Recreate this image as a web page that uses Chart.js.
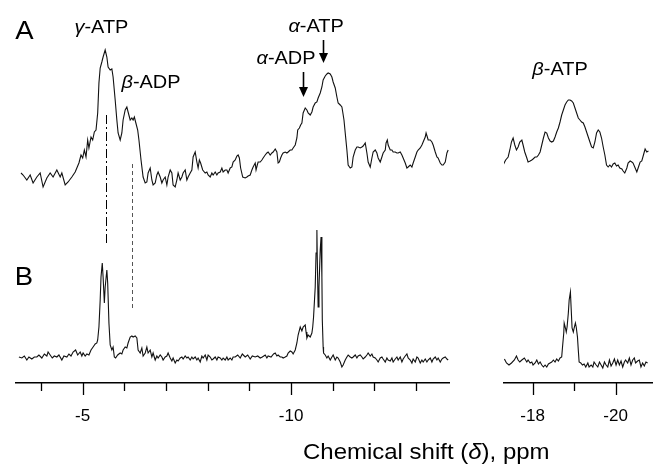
<!DOCTYPE html>
<html>
<head>
<meta charset="utf-8">
<script src="https://cdn.jsdelivr.net/npm/chart.js@4.4.1/dist/chart.umd.min.js"></script>
<style>
  html, body { margin: 0; padding: 0; background: #fff; }
  #wrap { position: relative; width: 653px; height: 464px; overflow: hidden; }
  #left { position: absolute; left: 0; top: 0; }
  #right { position: absolute; left: 460px; top: 0; }
  #xtitle {
    position: absolute; left: 303px; top: 441px;
    font: 22px "Liberation Sans", Arial, Helvetica, sans-serif; line-height: 22px;
    color: #000; white-space: nowrap;
    transform: scaleX(1.09); transform-origin: left top;
  }
</style>
</head>
<body>
<div id="wrap">
  <canvas id="left" width="460" height="464"></canvas>
  <canvas id="right" width="193" height="464"></canvas>
  <div id="xtitle">Chemical shift (<i>δ</i>), ppm</div>
</div>
<script>
// ---- spectrum A (upper trace), left window, ppm / intensity
const aLeftPpm = [
  -3.52,-3.57,-3.66,-3.74,-3.81,-3.90,-3.98,-4.05,-4.14,-4.22,
  -4.29,-4.38,-4.46,-4.50,-4.58,-4.65,-4.74,-4.82,-4.86,-4.91,
  -4.96,-5.00,-5.04,-5.08,-5.12,-5.15,-5.20,-5.24,-5.28,-5.32,
  -5.36,-5.39,-5.42,-5.46,-5.49,-5.54,-5.58,-5.61,-5.66,-5.70,
  -5.73,-5.78,-5.82,-5.85,-5.90,-5.94,-5.97,-6.02,-6.06,-6.09,
  -6.14,-6.18,-6.21,-6.24,-6.27,-6.32,-6.35,-6.40,-6.45,-6.50,
  -6.54,-6.57,-6.62,-6.66,-6.69,-6.74,-6.78,-6.81,-6.86,-6.90,
  -6.93,-6.98,-7.02,-7.05,-7.10,-7.14,-7.17,-7.22,-7.26,-7.29,
  -7.34,-7.38,-7.41,-7.46,-7.50,-7.53,-7.58,-7.62,-7.65,-7.70,
  -7.74,-7.77,-7.80,-7.83,-7.88,-7.94,-7.98,-8.01,-8.06,-8.10,
  -8.13,-8.18,-8.22,-8.25,-8.30,-8.34,-8.37,-8.42,-8.46,-8.49,
  -8.54,-8.58,-8.61,-8.66,-8.70,-8.73,-8.76,-8.79,-8.84,-8.90,
  -8.94,-8.97,-9.02,-9.06,-9.09,-9.14,-9.16,-9.19,-9.21,-9.26,
  -9.30,-9.33,-9.38,-9.42,-9.45,-9.50,-9.54,-9.57,-9.62,-9.66,
  -9.69,-9.72,-9.75,-9.78,-9.81,-9.86,-9.90,-9.93,-9.98,-10.02,
  -10.05,-10.10,-10.14,-10.16,-10.20,-10.23,-10.26,-10.29,-10.34,-10.38,
  -10.41,-10.46,-10.50,-10.53,-10.58,-10.62,-10.65,-10.70,-10.74,-10.77,
  -10.82,-10.86,-10.89,-10.94,-10.98,-11.01,-11.06,-11.10,-11.13,-11.18,
  -11.22,-11.24,-11.27,-11.30,-11.34,-11.37,-11.42,-11.46,-11.49,-11.54,
  -11.58,-11.61,-11.66,-11.70,-11.73,-11.78,-11.82,-11.85,-11.90,-11.94,
  -11.97,-12.02,-12.06,-12.09,-12.14,-12.18,-12.21,-12.26,-12.28,-12.31,
  -12.33,-12.38,-12.42,-12.45,-12.50,-12.54,-12.57,-12.62,-12.66,-12.69,
  -12.74,-12.78,-12.81,-12.86,-12.90,-12.93,-12.98,-13.02,-13.05,-13.10,
  -13.14,-13.17,-13.22,-13.24,-13.27,-13.29,-13.34,-13.38,-13.41,-13.46,
  -13.50,-13.53,-13.58,-13.62,-13.65,-13.70,-13.74,-13.77
];
const aLeftInt = [
  5,3,-2,3,-5,1,5,-9,0,5,
  1,8,1,5,-7,-4,1,6,10,15,
  23,20,28,21,38,30,41,38,46,48,
  65,95,110,116,121,128,121,111,108,109,
  101,78,58,45,38,45,58,68,71,66,
  58,60,58,61,56,48,38,18,1,-5,
  -4,5,10,-2,-7,-5,3,6,1,-5,
  -2,1,-7,1,8,5,-7,-9,-2,5,
  -2,1,5,8,-2,1,5,8,21,26,
  16,10,18,15,8,5,6,3,1,5,
  3,6,3,5,6,10,6,8,8,5,
  10,11,16,18,22,23,20,10,1,0,
  1,2,3,8,11,15,8,13,16,16,
  18,20,23,25,26,23,25,26,29,26,
  15,16,20,23,25,26,25,26,28,28,
  30,33,40,48,50,53,55,65,70,68,
  65,63,66,71,75,76,80,85,91,98,
  102,104,105,104,101,96,90,81,75,73,
  71,66,58,45,28,13,10,11,21,28,
  31,31,30,31,32,35,25,16,11,20,
  26,28,25,20,16,21,25,28,35,38,
  33,28,28,26,26,25,25,26,23,20,
  15,10,11,13,11,15,21,26,28,30,
  33,36,41,45,41,38,38,36,33,26,
  21,20,15,13,13,16,25,28
];

// ---- spectrum B (lower trace), left window
const bLeftPpm = [
  -3.47,-3.54,-3.60,-3.66,-3.71,-3.78,-3.84,-3.90,-3.95,-4.02,
  -4.08,-4.14,-4.17,-4.22,-4.27,-4.32,-4.38,-4.43,-4.50,-4.55,
  -4.62,-4.67,-4.72,-4.77,-4.83,-4.88,-4.94,-4.98,-5.01,-5.06,
  -5.10,-5.15,-5.20,-5.25,-5.30,-5.34,-5.36,-5.39,-5.42,-5.44,
  -5.47,-5.49,-5.52,-5.54,-5.58,-5.60,-5.63,-5.66,-5.70,-5.73,
  -5.76,-5.79,-5.84,-5.90,-5.94,-5.97,-6.02,-6.06,-6.09,-6.14,
  -6.18,-6.21,-6.26,-6.30,-6.33,-6.38,-6.42,-6.45,-6.50,-6.54,
  -6.57,-6.62,-6.66,-6.69,-6.74,-6.78,-6.81,-6.86,-6.90,-6.93,
  -6.98,-7.02,-7.05,-7.10,-7.14,-7.17,-7.22,-7.26,-7.29,-7.34,
  -7.38,-7.41,-7.46,-7.50,-7.53,-7.58,-7.62,-7.65,-7.70,-7.74,
  -7.77,-7.82,-7.86,-7.89,-7.94,-7.98,-8.01,-8.06,-8.10,-8.13,
  -8.18,-8.22,-8.25,-8.30,-8.34,-8.37,-8.42,-8.46,-8.49,-8.54,
  -8.58,-8.61,-8.66,-8.72,-8.78,-8.83,-8.90,-8.96,-9.02,-9.07,
  -9.14,-9.20,-9.26,-9.31,-9.38,-9.42,-9.45,-9.52,-9.58,-9.62,
  -9.66,-9.69,-9.74,-9.78,-9.81,-9.86,-9.90,-9.93,-9.98,-10.02,
  -10.05,-10.10,-10.14,-10.17,-10.22,-10.26,-10.29,-10.34,-10.36,-10.38,
  -10.41,-10.46,-10.50,-10.52,-10.54,-10.58,-10.60,-10.62,-10.63,-10.65,
  -10.67,-10.70,-10.72,-10.74,-10.75,-10.77,-10.78,-10.82,-10.86,-10.89,
  -10.94,-10.98,-11.01,-11.06,-11.10,-11.13,-11.18,-11.22,-11.25,-11.30,
  -11.34,-11.37,-11.42,-11.46,-11.49,-11.54,-11.58,-11.61,-11.66,-11.70,
  -11.73,-11.78,-11.82,-11.85,-11.90,-11.94,-11.97,-12.02,-12.06,-12.09,
  -12.14,-12.18,-12.21,-12.26,-12.30,-12.33,-12.38,-12.42,-12.45,-12.50,
  -12.54,-12.57,-12.62,-12.66,-12.69,-12.74,-12.78,-12.81,-12.86,-12.90,
  -12.93,-12.98,-13.02,-13.05,-13.10,-13.14,-13.17,-13.22,-13.26,-13.29,
  -13.34,-13.38,-13.41,-13.46,-13.50,-13.53,-13.58,-13.62,-13.65,-13.70,
  -13.74,-13.77
];
const bLeftInt = [
  1,0,2,-2,1,-1,1,1,3,0,
  4,2,6,3,0,2,1,3,-2,2,
  1,4,2,6,8,3,6,2,5,2,
  4,3,8,11,14,15,18,31,58,81,
  95,81,55,71,88,75,35,13,8,11,
  1,0,3,5,4,8,11,10,15,21,
  22,21,22,20,8,5,10,2,5,11,
  5,8,1,5,-2,2,0,3,1,-2,
  1,2,5,0,-3,0,-5,-2,-3,0,
  1,-1,2,0,1,-2,1,-1,1,-2,
  0,-4,2,0,3,-2,3,1,-2,-1,
  1,-2,1,0,-2,0,-2,1,-2,0,
  -2,1,1,3,0,4,1,3,-1,2,
  1,2,0,1,3,0,2,1,4,5,
  2,3,1,1,0,1,2,5,7,6,
  4,8,15,23,31,27,31,33,26,20,
  23,21,25,31,41,71,105,128,98,51,
  71,108,121,81,38,11,5,3,0,2,
  -2,1,3,-2,1,0,-4,-9,-7,-2,
  1,3,1,0,1,3,0,2,3,1,
  -1,1,3,5,2,4,1,0,-2,-4,
  0,1,-1,-4,0,-2,-3,0,-4,-1,
  1,-2,1,-4,-1,2,4,0,-2,-5,
  -1,-4,1,0,-5,-2,-4,-1,-4,-2,
  0,-4,-1,1,-2,0,-4,-1,0,1,
  -1,-2
];

// ---- right window (beta-ATP region)
const aRightPpm = [
  -17.19,-17.24,-17.29,-17.35,-17.41,-17.45,-17.49,-17.53,-17.57,-17.61,
  -17.65,-17.69,-17.74,-17.77,-17.81,-17.86,-17.89,-17.94,-17.98,-18.01,
  -18.06,-18.10,-18.14,-18.18,-18.22,-18.26,-18.30,-18.34,-18.38,-18.42,
  -18.46,-18.50,-18.54,-18.58,-18.62,-18.66,-18.70,-18.74,-18.78,-18.82,
  -18.86,-18.90,-18.94,-18.98,-19.02,-19.06,-19.10,-19.14,-19.18,-19.22,
  -19.26,-19.30,-19.34,-19.38,-19.42,-19.46,-19.50,-19.54,-19.58,-19.62,
  -19.66,-19.70,-19.74,-19.78,-19.82,-19.86,-19.90,-19.94,-19.98,-20.02,
  -20.06,-20.10,-20.15,-20.18,-20.22,-20.27,-20.30,-20.35,-20.39,-20.42,
  -20.47,-20.51,-20.55,-20.59,-20.63,-20.67,-20.71,-20.75,-20.79
];
const aRightInt = [
  14,16,13,18,21,28,36,40,33,28,
  31,36,38,33,26,20,16,17,18,19,
  21,21,23,26,33,40,46,45,40,37,
  36,37,41,46,50,56,63,68,73,76,
  78,78,77,75,70,65,60,58,56,55,
  51,46,41,36,31,30,36,45,48,46,
  40,31,23,13,11,13,11,14,15,12,
  13,10,9,7,5,10,15,17,16,15,
  10,6,11,16,17,23,29,26,27
];
const bRightPpm = [
  -17.32,-17.37,-17.43,-17.49,-17.56,-17.61,-17.65,-17.69,-17.74,-17.80,
  -17.86,-17.89,-17.94,-17.98,-18.01,-18.06,-18.10,-18.14,-18.18,-18.22,
  -18.26,-18.30,-18.34,-18.38,-18.42,-18.46,-18.50,-18.54,-18.58,-18.62,
  -18.66,-18.70,-18.72,-18.75,-18.76,-18.79,-18.81,-18.83,-18.86,-18.88,
  -18.91,-18.93,-18.95,-18.98,-19.00,-19.03,-19.05,-19.08,-19.10,-19.12,
  -19.16,-19.20,-19.24,-19.28,-19.33,-19.36,-19.41,-19.45,-19.48,-19.53,
  -19.57,-19.61,-19.65,-19.69,-19.73,-19.77,-19.81,-19.85,-19.89,-19.93,
  -19.97,-20.01,-20.05,-20.09,-20.13,-20.17,-20.21,-20.24,-20.29,-20.33,
  -20.37,-20.41,-20.45,-20.48,-20.53,-20.57,-20.61,-20.65,-20.69,-20.73,
  -20.77
];
const bRightInt = [
  -1,-5,-7,-5,-2,2,-2,-4,-2,0,
  -4,-2,-5,-4,-7,-5,-2,-6,-4,-7,
  -9,-7,-9,-6,-5,-4,-2,-4,-1,-3,
  0,1,11,25,35,30,26,31,45,58,
  66,48,30,26,30,35,31,21,8,-4,
  -5,-7,-6,-9,-5,-9,-7,-9,-4,-7,
  -9,-4,-7,-10,-4,-7,-9,-2,-8,-5,
  -1,-7,-2,-7,-3,-9,-4,-2,-5,0,
  -7,-2,0,-5,-3,-2,-9,-5,-8,-4,
  -5
];

// ---- axis ticks
const leftTickValues = [-4, -5, -6, -7, -8, -9, -10, -11, -12, -13];
const leftTickLabels = ['-5', '-10'];
const rightTickValues = [-18, -19, -20];
const rightTickLabels = ['-18', '-20'];

const FONT = '"Liberation Sans", Arial, Helvetica, sans-serif';
const A_OFFSET = 205;   // vertical stacking of the two spectra
const B_OFFSET = 25;

function pts(ppm, vals, off) {
  return ppm.map((p, i) => ({ x: p, y: vals[i] + off }));
}

// minor / major tick marks under the axis line
const tickMarks = {
  id: 'tickMarks',
  afterDraw(chart) {
    const s = chart.scales.x, ctx = chart.ctx;
    ctx.save();
    ctx.strokeStyle = '#000';
    ctx.lineWidth = 1.3;
    s.ticks.forEach(t => {
      const px = Math.round(s.getPixelForValue(t.value)) + 0.5;
      const len = t.label ? 12 : 8;
      ctx.beginPath();
      ctx.moveTo(px, s.top);
      ctx.lineTo(px, s.top + len);
      ctx.stroke();
    });
    ctx.restore();
  }
};

// peak labels, arrows and guide lines, placed in data coordinates
function notesPlugin(notes) {
  return {
    id: 'notes',
    afterDraw(chart) {
      const ctx = chart.ctx, xs = chart.scales.x, ys = chart.scales.y;
      ctx.save();
      (notes.lines || []).forEach(l => {
        const px = Math.round(xs.getPixelForValue(l.x)) + 0.5;
        ctx.beginPath();
        ctx.setLineDash(l.dash);
        ctx.strokeStyle = l.color;
        ctx.lineWidth = 1;
        ctx.moveTo(px, ys.getPixelForValue(l.from));
        ctx.lineTo(px, ys.getPixelForValue(l.to));
        ctx.stroke();
      });
      ctx.setLineDash([]);
      (notes.arrows || []).forEach(a => {
        const px = Math.round(xs.getPixelForValue(a.x)) + 0.5;
        const y1 = ys.getPixelForValue(a.from), y2 = ys.getPixelForValue(a.to);
        ctx.strokeStyle = '#000';
        ctx.fillStyle = '#000';
        ctx.lineWidth = 1.6;
        ctx.beginPath();
        ctx.moveTo(px, y1);
        ctx.lineTo(px, y2 - 8);
        ctx.stroke();
        ctx.beginPath();
        ctx.moveTo(px - 4.5, y2 - 10);
        ctx.lineTo(px + 4.5, y2 - 10);
        ctx.lineTo(px, y2);
        ctx.closePath();
        ctx.fill();
      });
      (notes.texts || []).forEach(t => {
        const italic = `italic ${t.size}px ${FONT}`, normal = `${t.size}px ${FONT}`;
        ctx.font = italic;
        const w1 = t.greek ? ctx.measureText(t.greek).width : 0;
        ctx.font = normal;
        const w2 = ctx.measureText(t.text).width;
        ctx.save();
        ctx.translate(xs.getPixelForValue(t.x), ys.getPixelForValue(t.y));
        ctx.scale(t.sx || 1, 1);
        ctx.fillStyle = '#000';
        ctx.textAlign = 'left';
        ctx.textBaseline = 'alphabetic';
        const x0 = -(w1 + w2) / 2;
        if (t.greek) { ctx.font = italic; ctx.fillText(t.greek, x0, 0); }
        ctx.font = normal;
        ctx.fillText(t.text, x0 + w1, 0);
        ctx.restore();
      });
      ctx.restore();
    }
  };
}

function makeChart(id, datasets, xmin, xmax, tickValues, tickLabels, padL, padR, notes) {
  return new Chart(document.getElementById(id), {
    type: 'line',
    data: { datasets },
    options: {
      responsive: false,
      animation: false,
      events: [],
      layout: { padding: { left: padL, right: padR, top: 0, bottom: 0 } },
      elements: {
        line: { borderColor: '#111', borderWidth: 1.1, tension: 0, fill: false },
        point: { radius: 0 }
      },
      plugins: { legend: { display: false }, tooltip: { enabled: false } },
      scales: {
        x: {
          type: 'linear',
          reverse: true,
          min: xmin,
          max: xmax,
          afterBuildTicks: s => { s.ticks = tickValues.map(v => ({ value: v })); },
          afterFit: s => { s.height = 81; },
          grid: { display: false, drawTicks: false },
          border: { display: true, color: '#000', width: 1.5 },
          ticks: {
            autoSkip: false,
            maxRotation: 0,
            padding: 23,
            color: '#000',
            font: { family: FONT, size: 17 },
            callback: v => (tickLabels.includes(String(v)) ? String(v) : '')
          }
        },
        y: { display: false, min: 0, max: 383 }
      }
    },
    plugins: [tickMarks, notesPlugin(notes)]
  });
}

makeChart('left', [
  { data: pts(aLeftPpm, aLeftInt, A_OFFSET) },
  { data: pts(bLeftPpm, bLeftInt, B_OFFSET) }
], -13.79, -3.40, leftTickValues, leftTickLabels, 16, 11, {
  lines: [
    { x: -5.56, from: 268, to: 140, dash: [9, 3, 2, 3], color: '#000' },
    { x: -6.18, from: 219, to: 75, dash: [4, 3], color: '#555' }
  ],
  arrows: [
    { x: -10.29, from: 311, to: 286 },
    { x: -10.76, from: 343, to: 320 }
  ],
  texts: [
    { text: 'A', x: -3.60, y: 344, size: 25, sx: 1.1 },
    { text: 'B', x: -3.59, y: 98, size: 25, sx: 1.1 },
    { greek: 'γ', text: '-ATP', x: -5.45, y: 350, size: 19, sx: 1.05 },
    { greek: 'β', text: '-ADP', x: -6.64, y: 295, size: 19, sx: 1.05 },
    { greek: 'α', text: '-ADP', x: -9.88, y: 319, size: 19, sx: 1.05 },
    { greek: 'α', text: '-ATP', x: -10.60, y: 351, size: 19, sx: 1.05 }
  ]
});

makeChart('right', [
  { data: pts(aRightPpm, aRightInt, A_OFFSET) },
  { data: pts(bRightPpm, bRightInt, B_OFFSET) }
], -20.90, -17.31, rightTickValues, rightTickLabels, 44, 0, {
  texts: [
    { greek: 'β', text: '-ATP', x: -18.66, y: 308, size: 19, sx: 1.05 }
  ]
});
</script>
</body>
</html>
